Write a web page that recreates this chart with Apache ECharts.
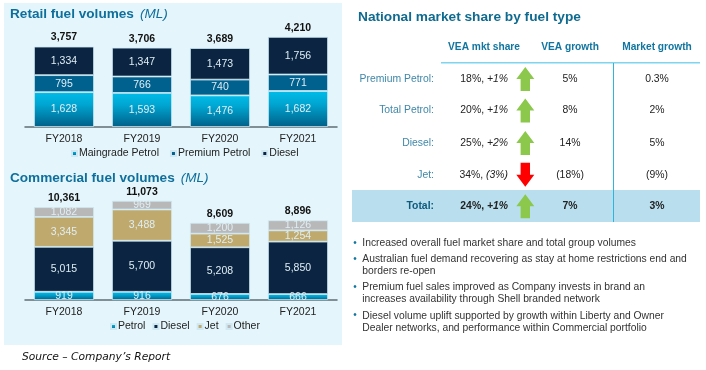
<!DOCTYPE html>
<html>
<head>
<meta charset="utf-8">
<title>Fuel volumes and market share</title>
<script src="https://cdn.jsdelivr.net/npm/echarts@6/dist/echarts.min.js"></script>
<style>
    html, body { margin: 0; padding: 0; background: #fff; }
    #chart { width: 706px; height: 370px; }
</style>
</head>
<body>
<div id="chart"></div>
<script>
// Chart data
const years = ['FY2018', 'FY2019', 'FY2020', 'FY2021'];

const retailMaingrade = [1628, 1593, 1476, 1682];
const retailPremium = [795, 766, 740, 771];
const retailDiesel = [1334, 1347, 1473, 1756];
const retailTotals = [3757, 3706, 3689, 4210];

const commercialPetrol = [919, 916, 676, 666];
const commercialDiesel = [5015, 5700, 5208, 5850];
const commercialJet = [3345, 3488, 1525, 1254];
const commercialOther = [1082, 969, 1200, 1126];
const commercialTotals = [10361, 11073, 8609, 8896];

// Table data
const tableHeaders = ['VEA mkt share', 'VEA growth', 'Market growth'];
const tableFuels = ['Premium Petrol:', 'Total Petrol:', 'Diesel:', 'Jet:', 'Total:'];
const tableShare = ['18%', '20%', '25%', '34%', '24%'];
const tableShareChange = ['+1%', '+1%', '+2%', '(3%)', '+1%'];
const tableArrows = ['up', 'up', 'up', 'down', 'up'];
const tableVeaGrowth = ['5%', '8%', '14%', '(18%)', '7%'];
const tableMarketGrowth = ['0.3%', '2%', '5%', '(9%)', '3%'];

const bulletLines = [
    ['Increased overall fuel market share and total group volumes'],
    ['Australian fuel demand recovering as stay at home restrictions end and', 'borders re-open'],
    ['Premium fuel sales improved as Company invests in brand an', 'increases availability through Shell branded network'],
    ['Diesel volume uplift supported by growth within Liberty and Owner', 'Dealer networks, and performance within Commercial portfolio']
];

// Colours and fonts
const FONT = '"Liberation Sans", Arial, sans-serif';
const PANEL_BG = '#e4f6fc';
const TITLE_BLUE = '#0f6f9c';
const COLOR_PREMIUM = '#00608e';
const COLOR_DIESEL = '#0a2442';
const COLOR_JET = '#bfa96c';
const COLOR_OTHER = '#b8b8b8';
const petrolGradient = {
    type: 'linear', x: 0, y: 0, x2: 0, y2: 1,
    colorStops: [
        { offset: 0, color: '#00bce9' },
        { offset: 0.35, color: '#00a6d2' },
        { offset: 1, color: '#005f88' }
    ]
};

function fmt(value) {
    return String(value).replace(/\B(?=(\d{3})+$)/g, ',');
}

// One stacked segment of a bar
function stackSeries(name, data, color, gridIndex) {
    return {
        name: name,
        type: 'bar',
        stack: 'volumes' + gridIndex,
        xAxisIndex: gridIndex,
        yAxisIndex: gridIndex,
        barWidth: 60,
        data: data,
        itemStyle: { color: color, borderColor: '#cfe8f2', borderWidth: 0.8 },
        label: {
            show: true,
            position: 'inside',
            color: '#dfeef4',
            fontFamily: FONT,
            fontSize: 10.5,
            formatter: function (p) { return fmt(p.value); }
        }
    };
}

// Invisible line that only carries the total above each bar
function totalSeries(data, gridIndex) {
    return {
        name: 'Total' + gridIndex,
        type: 'line',
        xAxisIndex: gridIndex,
        yAxisIndex: gridIndex,
        data: data,
        symbol: 'circle',
        symbolSize: 1,
        showSymbol: true,
        showAllSymbol: true,
        itemStyle: { color: 'transparent' },
        lineStyle: { color: 'transparent', width: 0 },
        silent: true,
        label: {
            show: true,
            position: 'top',
            distance: 3,
            color: '#111',
            fontFamily: FONT,
            fontSize: 10.5,
            fontWeight: 'bold',
            formatter: function (p) { return fmt(p.value); }
        }
    };
}

function xAxisFor(gridIndex) {
    return {
        type: 'category',
        gridIndex: gridIndex,
        data: years,
        axisTick: { show: false },
        axisLine: { lineStyle: { color: '#5f6c73', width: 1.5 } },
        axisLabel: { color: '#222', fontFamily: FONT, fontSize: 10.5, margin: 7 }
    };
}

function legendFor(names, left, top, gap) {
    return {
        data: names,
        left: left,
        top: top,
        icon: 'rect',
        itemWidth: 5,
        itemHeight: 5,
        itemGap: gap,
        selectedMode: false,
        padding: 0,
        textStyle: { color: '#222', fontFamily: FONT, fontSize: 10.5, padding: [0, 0, 0, -3] }
    };
}

function textItem(x, y, text, fontSize, color, align, extra) {
    return {
        type: 'text',
        x: x,
        y: y,
        z: 10,
        style: Object.assign({
            text: text,
            fontFamily: FONT,
            fontSize: fontSize,
            fill: color,
            align: align,
            verticalAlign: 'middle'
        }, extra || {})
    };
}

// Panel heading: bold words followed by the italic unit
function headingItem(y, words) {
    return textItem(10, y, '{a|' + words + '}{b|(ML)}', 13.6, TITLE_BLUE, 'left', {
        rich: {
            a: { fontFamily: FONT, fontSize: 13.6, fontWeight: 'bold', fill: TITLE_BLUE },
            b: { fontFamily: FONT, fontSize: 13.6, fontStyle: 'italic', fill: TITLE_BLUE, padding: [0, 0, 0, 6] }
        }
    });
}

// Right hand table, background rows first so the text sits on top
function buildTable() {
    const items = [];
    const rowY = [79, 110.5, 143, 174.7, 206.3];
    const columnX = [484, 570, 657];
    const rowSize = 10.4;

    items.push({ type: 'rect', z: 1, shape: { x: 352, y: 190, width: 348, height: 32 }, style: { fill: '#b9dfee' } });
    items.push({ type: 'rect', z: 2, shape: { x: 441, y: 62, width: 259, height: 1.5 }, style: { fill: '#7dd5ee' } });
    items.push({ type: 'rect', z: 2, shape: { x: 613, y: 63, width: 1, height: 159 }, style: { fill: '#2fb4dc' } });

    tableHeaders.forEach(function (header, i) {
        items.push(textItem(columnX[i], 47.5, header, 10.2, '#1175a0', 'center', { fontWeight: 'bold' }));
    });

    tableFuels.forEach(function (fuel, i) {
        const isTotal = i === tableFuels.length - 1;
        const weight = isTotal ? 'bold' : 'normal';
        const y = rowY[i];
        items.push(textItem(434, y, fuel, rowSize, isTotal ? '#0f5a7d' : '#3f87a8', 'right', { fontWeight: weight }));
        items.push(textItem(508, y, '{a|' + tableShare[i] + ', }{b|' + tableShareChange[i] + '}', rowSize, '#222', 'right', {
            rich: {
                a: { fontFamily: FONT, fontSize: rowSize, fill: '#222', fontWeight: weight },
                b: { fontFamily: FONT, fontSize: rowSize, fill: '#222', fontWeight: weight, fontStyle: 'italic' }
            }
        }));
        items.push(textItem(570, y, tableVeaGrowth[i], rowSize, '#222', 'center', { fontWeight: weight }));
        items.push(textItem(657, y, tableMarketGrowth[i], rowSize, '#222', 'center', { fontWeight: weight }));

        // Arrow: up is green, down is red
        const dir = tableArrows[i] === 'up' ? -1 : 1;
        const tip = y + dir * 12;
        const neck = y;
        const tail = y - dir * 12;
        const cx = 525.3;
        items.push({
            type: 'polygon',
            z: 5,
            shape: {
                points: [
                    [cx, tip], [cx + 9, neck], [cx + 4.7, neck], [cx + 4.7, tail],
                    [cx - 4.7, tail], [cx - 4.7, neck], [cx - 9, neck]
                ]
            },
            style: { fill: dir < 0 ? '#8cc84b' : '#ff0000' }
        });
    });
    return items;
}

function buildBullets() {
    const items = [];
    const startY = [243, 259, 287, 315.7];
    bulletLines.forEach(function (lines, i) {
        items.push(textItem(355, startY[i], '•', 10, '#1175a0', 'center'));
        lines.forEach(function (line, j) {
            items.push(textItem(362.3, startY[i] + j * 12.4, line, 10.3, '#333', 'left'));
        });
    });
    return items;
}

const panelItems = [
    { type: 'rect', z: 0, shape: { x: 4, y: 3, width: 338, height: 342 }, style: { fill: PANEL_BG } },
    headingItem(14.5, 'Retail fuel volumes'),
    headingItem(178, 'Commercial fuel volumes'),
    textItem(358, 17.5, 'National market share by fuel type', 13.7, '#0f6a8f', 'left', { fontWeight: 'bold' }),
    textItem(22, 357, 'Source – Company’s Report', 10.7, '#111', 'left', { fontFamily: '"DejaVu Sans", sans-serif', fontStyle: 'italic' })
];

const chart = echarts.init(document.getElementById('chart'), null, { renderer: 'canvas' });

chart.setOption({
    animation: false,
    backgroundColor: '#fff',
    grid: [
        { left: 25, top: 20, width: 312, height: 107 },
        { left: 25, top: 192.5, width: 312, height: 107.5 }
    ],
    xAxis: [xAxisFor(0), xAxisFor(1)],
    yAxis: [
        { type: 'value', gridIndex: 0, min: 0, max: 5000, show: false },
        { type: 'value', gridIndex: 1, min: 0, max: 12000, show: false }
    ],
    legend: [
        legendFor(['Maingrade Petrol', 'Premium Petrol', 'Diesel'], 71, 148, 11),
        legendFor(['Petrol', 'Diesel', 'Jet', 'Other'], 110, 321, 7)
    ],
    series: [
        stackSeries('Maingrade Petrol', retailMaingrade, petrolGradient, 0),
        stackSeries('Premium Petrol', retailPremium, COLOR_PREMIUM, 0),
        stackSeries('Diesel', retailDiesel, COLOR_DIESEL, 0),
        totalSeries(retailTotals, 0),
        stackSeries('Petrol', commercialPetrol, petrolGradient, 1),
        stackSeries('Diesel', commercialDiesel, COLOR_DIESEL, 1),
        stackSeries('Jet', commercialJet, COLOR_JET, 1),
        stackSeries('Other', commercialOther, COLOR_OTHER, 1),
        totalSeries(commercialTotals, 1)
    ],
    graphic: panelItems.concat(buildTable(), buildBullets())
});
</script>
</body>
</html>
